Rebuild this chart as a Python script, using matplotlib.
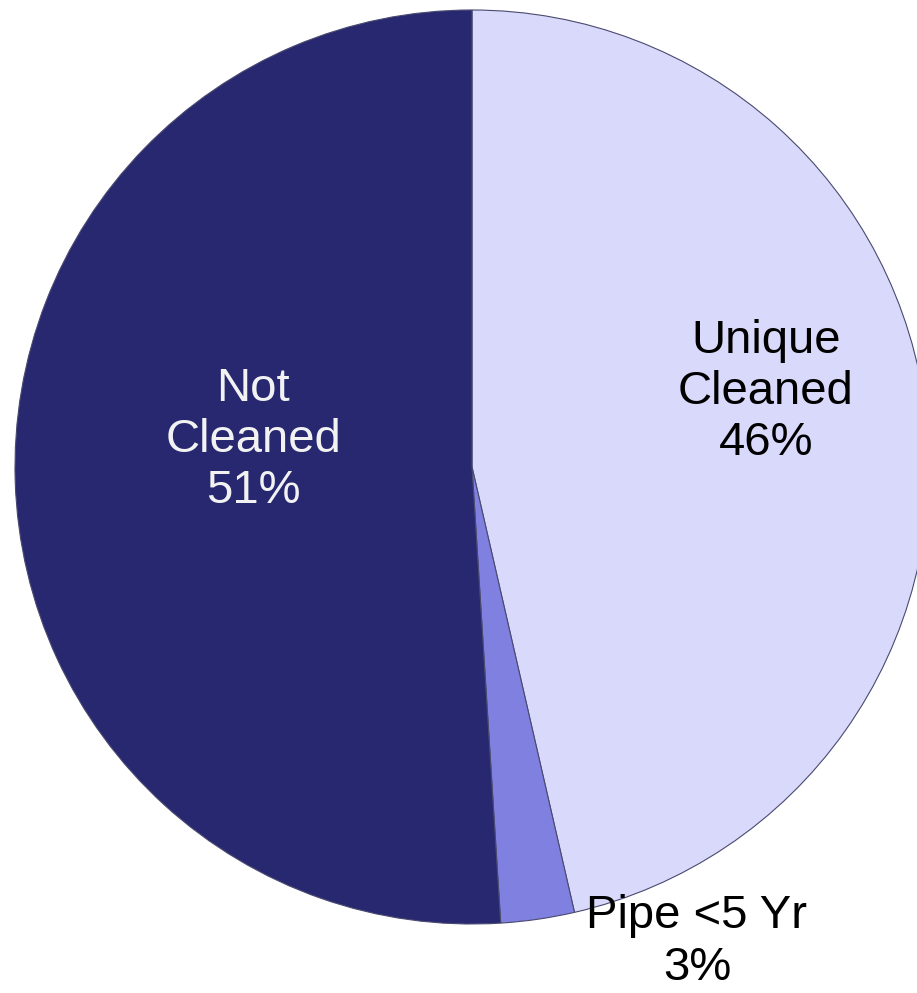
import matplotlib
matplotlib.use("Agg")
import matplotlib.pyplot as plt

labels = ["Unique\nCleaned", "Pipe <5 Yr", "Not\nCleaned"]
values = [46.4, 2.6, 51.0]
colors = ["#d9d9fb", "#7f80e0", "#272870"]
text_colors = ["#000000", "#000000", "#f2f2f2"]

W, H = 917, 993
fig = plt.figure(figsize=(W / 100, H / 100), dpi=100)
ax = fig.add_axes([0, 0, 1, 1])

cx, cy, r = 472, H - 467, 457
wedges, _ = ax.pie(values, colors=colors, startangle=90, counterclock=False,
                   center=(cx, cy), radius=r, frame=True,
                   wedgeprops=dict(edgecolor="#4a4a70", linewidth=0.8))
ax.set_xlim(0, W)
ax.set_ylim(0, H)
ax.set_aspect("equal")
ax.axis("off")

label_pos = [(766, H - 392), (697, H - 942), (253, H - 440)]
for lab, v, (x, y), tc in zip(labels, values, label_pos, text_colors):
    ax.text(x, y, f"{lab}\n{v:.0f}%", ha="center", va="center", color=tc,
            fontsize=34, family="Liberation Sans", linespacing=1.22)

fig.savefig("out.png", dpi=100)
